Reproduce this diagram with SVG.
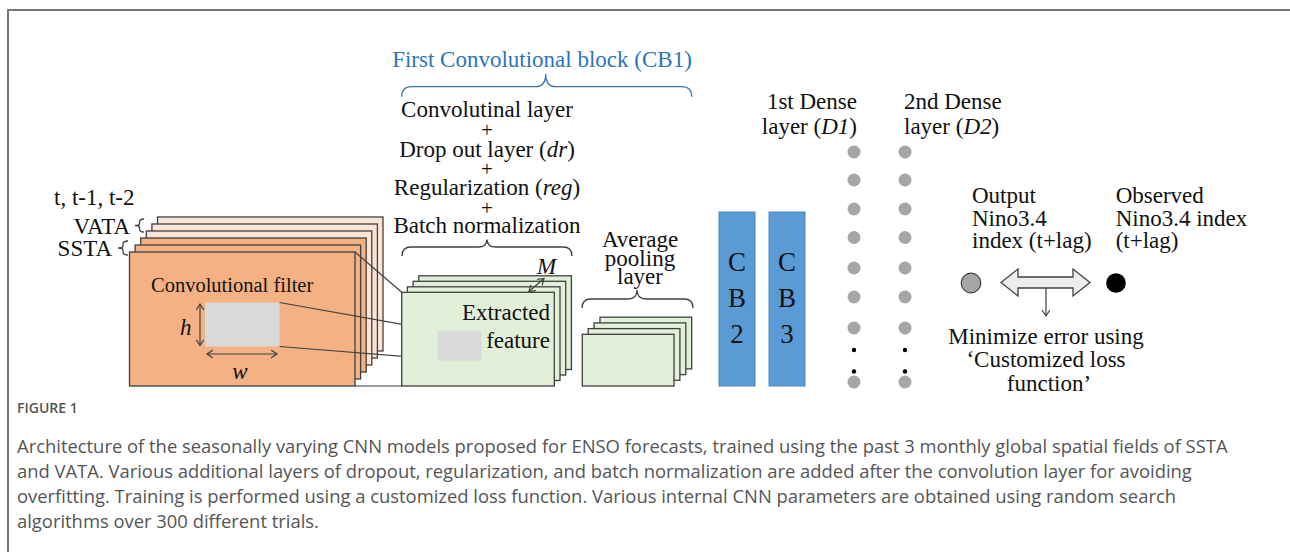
<svg xmlns="http://www.w3.org/2000/svg" width="1290" height="552" viewBox="0 0 1290 552">
<defs>
<style>
.t{font-family:"Liberation Serif","Times New Roman",serif;font-size:23px;fill:#111}
.tm{text-anchor:middle}
.it{font-style:italic}
.plus{font-size:21px}
.blue{fill:#2e75b6}
.orange{fill:#f4b183;stroke:#404040;stroke-width:1.3}
.peach{fill:#fbe5d6;stroke:#404040;stroke-width:1.3}
.green{fill:#e2f0d9;stroke:#404040;stroke-width:1.3}
.cb{fill:#5b9bd5;stroke:#4a88c4;stroke-width:1}
.gray{fill:#d9d9d9}
.dot{fill:#a6a6a6}
.bdot{fill:#000}
.ln{stroke:#404040;stroke-width:1.2;fill:none}
.br{stroke:#404040;stroke-width:1.3;fill:none}
.brb{stroke:#2e75b6;stroke-width:1.3;fill:none}
.cap{font-family:"Open Sans","Noto Sans",sans-serif;font-size:18.4px;fill:#555}
.fig{font-family:"Open Sans","Noto Sans",sans-serif;font-size:14px;font-weight:600;fill:#555}
</style>
<marker id="ah" markerUnits="userSpaceOnUse" markerWidth="10" markerHeight="10" refX="6" refY="4" orient="auto-start-reverse">
<path d="M0,0 L6,4 L0,8" fill="none" stroke="#404040" stroke-width="1.2"/>
</marker>
</defs>
<rect width="1290" height="552" fill="#fff"/>
<path d="M8,552 L8,10 L1290,10" fill="none" stroke="#777" stroke-width="2"/>

<g id="title">
<text class="t tm blue" x="542" y="66.5">First Convolutional block (CB1)</text>
<path class="brb" d="M401.7,96.7 Q401.7,86.7 411.7,86.7 L535.7,86.7 Q545.7,86.7 545.7,74 Q545.7,86.7 555.7,86.7 L681.7,86.7 Q691.7,86.7 691.7,96.7"/>
</g>

<g id="cb1-layers">
<text class="t tm" x="487" y="117.3">Convolutinal layer</text>
<text class="t tm plus" x="487" y="137">+</text>
<text class="t tm" x="487" y="156.7">Drop out layer (<tspan class="it">dr</tspan>)</text>
<text class="t tm plus" x="487" y="176">+</text>
<text class="t tm" x="487" y="195">Regularization (<tspan class="it">reg</tspan>)</text>
<text class="t tm plus" x="487" y="214.5">+</text>
<text class="t tm" x="487" y="233.3">Batch normalization</text>
<path class="br" d="M402,256 Q402,247 411,247 L478,247 Q487,247 487,239.5 Q487,247 496,247 L563,247 Q572,247 572,256"/>
</g>

<g id="inputs">
<text class="t" x="54" y="205">t, t-1, t-2</text>
<text class="t" x="130" y="234" text-anchor="end">VATA</text>
<text class="t" x="112" y="256" text-anchor="end">SSTA</text>
<path class="br" d="M144,219 Q139.5,219 139.5,222 L139.5,223.5 Q139.5,225.5 135,225.5 Q139.5,225.5 139.5,227.5 L139.5,229 Q139.5,232 144,232"/>
<path class="br" d="M128,241 Q123,241 123,244 L123,246 Q123,248 118,248 Q123,248 123,250 L123,252 Q123,255 128,255"/>
<rect class="peach" x="157.5" y="217" width="225.5" height="134"/>
<rect class="peach" x="151.9" y="224" width="225.5" height="134"/>
<rect class="peach" x="146.3" y="231" width="225.5" height="134"/>
<rect class="orange" x="140.7" y="238" width="225.5" height="134"/>
<rect class="orange" x="135.1" y="245" width="225.5" height="134"/>
<rect class="orange" x="129.5" y="252" width="225.5" height="134"/>
<text class="t" x="151" y="291.7" style="font-size:20.5px">Convolutional filter</text>
<rect class="gray" x="205" y="302.5" width="74.5" height="44"/>
<line class="ln" x1="200" y1="304" x2="200" y2="345.5" marker-start="url(#ah)" marker-end="url(#ah)"/>
<text class="t it" x="180" y="335">h</text>
<line class="ln" x1="207" y1="354" x2="277" y2="354" marker-start="url(#ah)" marker-end="url(#ah)"/>
<text class="t it tm" x="240" y="379">w</text>
</g>

<g id="connectors">
<line class="ln" x1="355" y1="252" x2="401.7" y2="292.3"/>
<line class="ln" x1="355" y1="386" x2="401.7" y2="386"/>
<line class="ln" x1="279.5" y1="302.5" x2="437.5" y2="330.7"/>
<line class="ln" x1="279.5" y1="346.5" x2="437.5" y2="359.2"/>
</g>

<g id="extracted">
<rect class="green" x="418.8" y="275.8" width="152.6" height="93.7"/>
<rect class="green" x="413.1" y="281.3" width="152.6" height="93.7"/>
<rect class="green" x="407.4" y="286.8" width="152.6" height="93.7"/>
<rect class="green" x="401.7" y="292.3" width="152.6" height="93.7"/>
<text class="t it" x="537" y="274">M</text>
<line class="ln" x1="529" y1="291.5" x2="544" y2="278.5" marker-start="url(#ah)" marker-end="url(#ah)"/>
<text class="t" x="550" y="320" text-anchor="end">Extracted</text>
<text class="t" x="550" y="348.3" text-anchor="end">feature</text>
<rect class="gray" x="437.5" y="330.7" width="44" height="30"/>
</g>

<g id="pooling">
<text class="t tm" x="640" y="247">Average</text>
<text class="t tm" x="640" y="266">pooling</text>
<text class="t tm" x="640" y="284">layer</text>
<path class="br" d="M582,308 Q582,299 591,299 L628,299 Q637,299 637,290 Q637,299 646,299 L684,299 Q693,299 693,308"/>
<rect class="green" x="600" y="317.2" width="91.7" height="51.7"/>
<rect class="green" x="594.1" y="322.9" width="91.7" height="51.7"/>
<rect class="green" x="588.2" y="328.6" width="91.7" height="51.7"/>
<rect class="green" x="582.3" y="334.3" width="91.7" height="51.7"/>
</g>

<g id="cb2">
<rect class="cb" x="719" y="212" width="36" height="174"/>
<text class="t tm" x="737" y="271" style="font-size:27px">C</text>
<text class="t tm" x="737" y="307" style="font-size:27px">B</text>
<text class="t tm" x="737" y="343" style="font-size:27px">2</text>
</g>
<g id="cb3">
<rect class="cb" x="769" y="212" width="36" height="174"/>
<text class="t tm" x="787" y="271" style="font-size:27px">C</text>
<text class="t tm" x="787" y="307" style="font-size:27px">B</text>
<text class="t tm" x="787" y="343" style="font-size:27px">3</text>
</g>

<g id="dense1">
<text class="t" x="857" y="109" text-anchor="end">1st Dense</text>
<text class="t" x="857" y="134" text-anchor="end">layer (<tspan class="it">D1</tspan>)</text>
<circle class="dot" cx="854" cy="152" r="6.5"/>
<circle class="dot" cx="854" cy="180" r="6.5"/>
<circle class="dot" cx="854" cy="209" r="6.5"/>
<circle class="dot" cx="854" cy="237.5" r="6.5"/>
<circle class="dot" cx="854" cy="268" r="6.5"/>
<circle class="dot" cx="854" cy="297" r="6.5"/>
<circle class="dot" cx="854" cy="328" r="6.5"/>
<circle class="dot" cx="854" cy="382" r="6.5"/>
<circle class="bdot" cx="854" cy="350" r="2.2"/>
<circle class="bdot" cx="854" cy="371.5" r="2.2"/>
</g>
<g id="dense2">
<text class="t" x="904" y="109">2nd Dense</text>
<text class="t" x="904" y="134">layer (<tspan class="it">D2</tspan>)</text>
<circle class="dot" cx="905" cy="152" r="6.5"/>
<circle class="dot" cx="905" cy="180" r="6.5"/>
<circle class="dot" cx="905" cy="209" r="6.5"/>
<circle class="dot" cx="905" cy="237.5" r="6.5"/>
<circle class="dot" cx="905" cy="268" r="6.5"/>
<circle class="dot" cx="905" cy="297" r="6.5"/>
<circle class="dot" cx="905" cy="328" r="6.5"/>
<circle class="dot" cx="905" cy="382" r="6.5"/>
<circle class="bdot" cx="905" cy="350" r="2.2"/>
<circle class="bdot" cx="905" cy="371.5" r="2.2"/>
</g>

<g id="output">
<text class="t" x="972" y="203.3">Output</text>
<text class="t" x="972" y="225.5">Nino3.4</text>
<text class="t" x="972" y="248.3">index (t+lag)</text>
<circle cx="971" cy="283" r="9.8" fill="#a6a6a6" stroke="#404040" stroke-width="1.2"/>
</g>
<g id="observed">
<text class="t" x="1115.7" y="203.3">Observed</text>
<text class="t" x="1115.7" y="225.5">Nino3.4 index</text>
<text class="t" x="1115.7" y="248.3">(t+lag)</text>
<circle cx="1116" cy="283" r="9.8" fill="#000"/>
</g>
<g id="loss">
<path d="M1001,282.5 L1018,269 L1018,277 L1073,277 L1073,269 L1090,282.5 L1073,296 L1073,288 L1018,288 L1018,296 Z" fill="#ededed" stroke="#404040" stroke-width="1.3"/>
<line class="ln" x1="1046" y1="288" x2="1046" y2="316" marker-end="url(#ah)"/>
<text class="t tm" x="1046" y="344">Minimize error using</text>
<text class="t tm" x="1046" y="367">‘Customized loss</text>
<text class="t tm" x="1049" y="391">function’</text>
</g>

<g id="caption">
<text class="fig" x="17" y="413">FIGURE 1</text>
<text class="cap" x="17" y="453">Architecture of the seasonally varying CNN models proposed for ENSO forecasts, trained using the past 3 monthly global spatial fields of SSTA</text>
<text class="cap" x="17" y="478">and VATA. Various additional layers of dropout, regularization, and batch normalization are added after the convolution layer for avoiding</text>
<text class="cap" x="17" y="503">overfitting. Training is performed using a customized loss function. Various internal CNN parameters are obtained using random search</text>
<text class="cap" x="17" y="528">algorithms over 300 different trials.</text>
</g>
</svg>
